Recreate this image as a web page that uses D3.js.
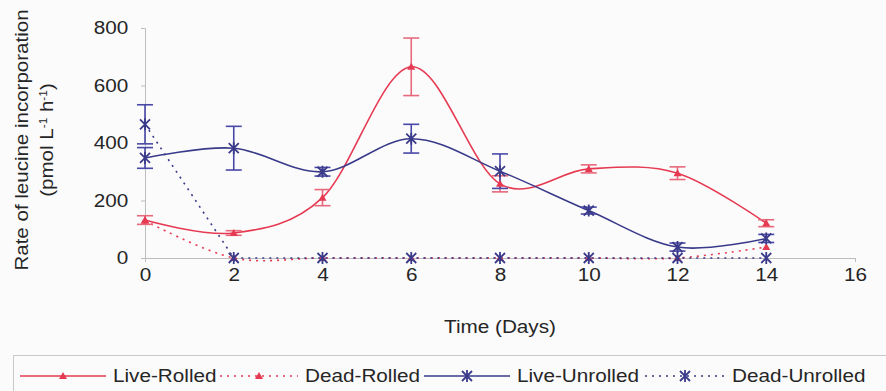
<!DOCTYPE html>
<html lang="en">
<head>
<meta charset="utf-8">
<title>Leucine incorporation</title>
<script src="https://cdn.jsdelivr.net/npm/d3@7"></script>
<style>
  body { margin: 0; background: #fbfbfb; }
  svg { display: block; font-family: "Liberation Sans", Arial, sans-serif; }
</style>
</head>
<body>
<div id="chart"></div>
<script>
// data
var days = [0, 2, 4, 6, 8, 10, 12, 14];
var liveRolled      = [132, 87, 210, 665, 258, 310, 295, 121];
var liveRolledErr   = [15, 8, 28, 100, 28, 14, 22, 12];
var deadRolled      = [130, 0, 0, 0, 0, 0, 0, 38];
var deadRolledErr   = [0, 0, 0, 0, 0, 0, 0, 0];
var liveUnrolled    = [348, 382, 300, 415, 302, 165, 38, 68];
var liveUnrolledErr = [36, 76, 15, 50, 60, 12, 14, 14];
var deadUnrolled    = [465, 0, 0, 0, 0, 0, 0, 0];
var deadUnrolledErr = [68, 0, 0, 0, 0, 0, 0, 0];

var seriesNames = ["Live-Rolled", "Dead-Rolled", "Live-Unrolled", "Dead-Unrolled"];
var xTicks = [0, 2, 4, 6, 8, 10, 12, 14, 16];
var yTicks = [0, 200, 400, 600, 800];

var W = 886, H = 391;
var sx = 1.12; // the scanned figure is a bit stretched sideways

var red = "#e63a52", redErr = "#e8687c";
var navy = "#3a3a8a", navyErr = "#4848a8";

var smooth = d3.curveCatmullRom.alpha(0);
var series = [
  {name: seriesNames[0], vals: liveRolled, err: liveRolledErr, color: red, ecolor: redErr, dash: null, marker: "tri", curve: smooth},
  {name: seriesNames[1], vals: deadRolled, err: deadRolledErr, color: red, ecolor: redErr, dash: "2,5", marker: "tri", curve: smooth},
  {name: seriesNames[2], vals: liveUnrolled, err: liveUnrolledErr, color: navy, ecolor: navyErr, dash: null, marker: "star", curve: smooth},
  {name: seriesNames[3], vals: deadUnrolled, err: deadUnrolledErr, color: navy, ecolor: navyErr, dash: "2,5", marker: "star", curve: d3.curveLinear}
];

var svg = d3.select("#chart").append("svg")
  .attr("width", W).attr("height", H);

svg.append("rect").attr("width", W).attr("height", H).attr("fill", "#fbfbfb");

var x = d3.scaleLinear().domain([0, 16]).range([145, 855]);
var y = d3.scaleLinear().domain([0, 800]).range([258, 28]);

// axes
var yAxis = svg.append("g")
  .attr("transform", "translate(" + x(0) + ",0)")
  .call(d3.axisLeft(y).tickValues(yTicks).tickSize(4).tickPadding(11));
var xAxis = svg.append("g")
  .attr("transform", "translate(0," + y(0) + ")")
  .call(d3.axisBottom(x).tickValues(xTicks).tickSize(4).tickPadding(6));

[yAxis, xAxis].forEach(function(a) {
  a.select(".domain").attr("stroke", "#bdbdbd");
  a.selectAll(".tick line").attr("stroke", "#bdbdbd");
  a.selectAll("text")
    .attr("fill", "#262626")
    .style("font-size", "18.5px")
    .attr("transform", "scale(" + sx + ",1)");
});

// lines
var plot = svg.append("g");
series.forEach(function(s) {
  var line = d3.line()
    .x(function(d, i) { return x(days[i]); })
    .y(function(d) { return y(d); })
    .curve(s.curve);
  plot.append("path")
    .attr("d", line(s.vals))
    .attr("fill", "none")
    .attr("stroke", s.color)
    .attr("stroke-width", 1.6)
    .attr("stroke-dasharray", s.dash);
});

// error bars
series.forEach(function(s) {
  var g = plot.append("g").attr("stroke", s.ecolor).attr("stroke-width", 1.6);
  days.forEach(function(dd, i) {
    if (!s.err[i]) return;
    var cx = x(dd), y1 = y(s.vals[i] + s.err[i]), y2 = y(s.vals[i] - s.err[i]);
    g.append("line").attr("x1", cx).attr("x2", cx).attr("y1", y1).attr("y2", y2);
    g.append("line").attr("x1", cx - 8).attr("x2", cx + 8).attr("y1", y1).attr("y2", y1);
    g.append("line").attr("x1", cx - 8).attr("x2", cx + 8).attr("y1", y2).attr("y2", y2);
  });
});

function marker(g, kind, cx, cy, color) {
  if (kind === "tri") {
    g.append("path")
      .attr("d", "M" + cx + "," + (cy - 4) + "L" + (cx + 4) + "," + (cy + 3) + "L" + (cx - 4) + "," + (cy + 3) + "Z")
      .attr("fill", color);
  } else {
    var r = 5;
    g.append("path")
      .attr("d", "M" + (cx - r) + "," + (cy - r) + "L" + (cx + r) + "," + (cy + r) +
                 "M" + (cx - r) + "," + (cy + r) + "L" + (cx + r) + "," + (cy - r) +
                 "M" + cx + "," + (cy - r - 1) + "L" + cx + "," + (cy + r + 1))
      .attr("stroke", color).attr("stroke-width", 1.8).attr("fill", "none");
  }
}

series.forEach(function(s) {
  days.forEach(function(dd, i) {
    marker(plot, s.marker, x(dd), y(s.vals[i]), s.color);
  });
});

// stretched text helper
function stext(sel, px, py, str) {
  return sel.append("text")
    .attr("transform", "translate(" + px + "," + py + ") scale(" + sx + ",1)")
    .attr("fill", "#262626")
    .style("font-size", "18.5px")
    .text(str);
}

stext(svg, 500, 333, "Time (Days)").attr("text-anchor", "middle");

// y title, two lines
var yt = svg.append("g").attr("transform", "translate(28,140) rotate(-90)");
yt.append("text").attr("text-anchor", "middle").attr("fill", "#262626")
  .style("font-size", "19px")
  .attr("transform", "scale(1.08,1)")
  .text("Rate of leucine incorporation");
var yt2 = yt.append("text").attr("text-anchor", "middle").attr("fill", "#262626")
  .style("font-size", "19px")
  .attr("transform", "translate(0,25) scale(1.08,1)");
yt2.append("tspan").text("(pmol L");
yt2.append("tspan").attr("baseline-shift", "super").style("font-size", "11px").text("-1");
yt2.append("tspan").text(" h");
yt2.append("tspan").attr("baseline-shift", "super").style("font-size", "11px").text("-1");
yt2.append("tspan").text(")");

// legend
var legend = svg.append("g");
legend.append("rect")
  .attr("x", 13.5).attr("y", 355.5).attr("width", 900).attr("height", 50)
  .attr("fill", "none").attr("stroke", "#c8c8c8");
var legX = [20, 220, 424, 645];
var legLen = [86, 78, 86, 80];
series.forEach(function(s, i) {
  var lx = legX[i], ly = 376;
  legend.append("line")
    .attr("x1", lx).attr("x2", lx + legLen[i]).attr("y1", ly).attr("y2", ly)
    .attr("stroke", s.color).attr("stroke-width", 1.6)
    .attr("stroke-dasharray", s.dash);
  marker(legend, s.marker, lx + legLen[i] / 2, ly, s.color);
  stext(legend, lx + legLen[i] + 7, 382, s.name);
});
</script>
</body>
</html>
